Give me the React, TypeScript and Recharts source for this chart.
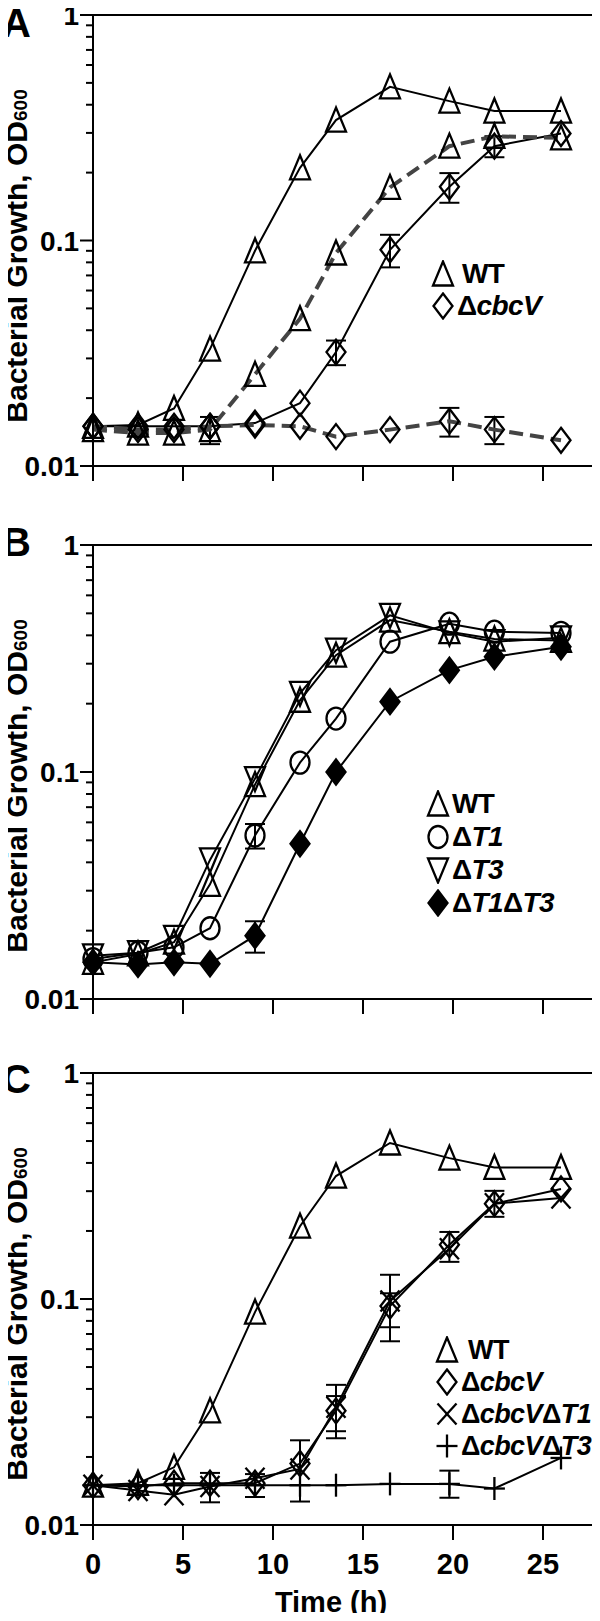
import React from 'react'
import { LineChart, Line, XAxis, YAxis, ErrorBar, ReferenceArea } from 'recharts'

const FONT = 'Liberation Sans, Arial, Helvetica, sans-serif'

const hours = [0, 2.5, 4.5, 6.5, 9, 11.5, 13.5, 16.5, 19.8, 22.3, 26]
const xTicks = [0, 5, 10, 15, 20, 25]
const majorY = [0.01, 0.1, 1]
const minorY = [0.02, 0.03, 0.04, 0.05, 0.06, 0.07, 0.08, 0.09, 0.2, 0.3, 0.4, 0.5, 0.6, 0.7, 0.8, 0.9]
const yTicks = [...majorY, ...minorY].sort((a, b) => a - b)

// panel A: solid = one condition, dashed grey = the other
const aWt = [0.015, 0.0152, 0.018, 0.033, 0.09, 0.21, 0.342, 0.48, 0.415, 0.375, 0.375]
const aWtDash = [0.0145, 0.014, 0.014, 0.0145, 0.0255, 0.045, 0.088, 0.172, 0.262, 0.29, 0.285]
const aWtDashErr = [null, null, null, 0.002, null, null, null, null, null, null, null]
const aCbcv = [0.015, 0.015, 0.015, 0.015, 0.0155, 0.019, 0.032, 0.091, 0.173, 0.262, 0.298]
const aCbcvErr = [null, null, null, null, null, null, 0.004, 0.015, 0.026, 0.028, null]
const aCbcvDash = [0.015, 0.0145, 0.0145, 0.015, 0.0152, 0.015, 0.0135, 0.0145, 0.0158, 0.0145, 0.013]
const aCbcvDashErr = [null, null, null, null, null, null, null, null, 0.0023, 0.002, null]

// panel B
const bWt = [0.0145, 0.0158, 0.0178, 0.032, 0.088, 0.207, 0.327, 0.467, 0.415, 0.385, 0.38]
const bT1 = [0.015, 0.016, 0.0169, 0.0205, 0.0525, 0.11, 0.172, 0.375, 0.45, 0.415, 0.41]
const bT1Err = [null, null, null, null, 0.0065, null, null, null, null, null, null]
const bT3 = [0.0155, 0.016, 0.0187, 0.041, 0.0935, 0.222, 0.344, 0.49, 0.41, 0.375, 0.39]
const bT1T3 = [0.0145, 0.0142, 0.0145, 0.0143, 0.019, 0.0483, 0.1, 0.204, 0.281, 0.322, 0.356]
const bT1T3Err = [null, null, null, null, 0.003, null, null, null, null, null, null]

// panel C
const cWt = [0.015, 0.0153, 0.018, 0.032, 0.0875, 0.21, 0.35, 0.49, 0.42, 0.382, 0.382]
const cCbcv = [0.015, 0.0148, 0.0153, 0.0153, 0.0153, 0.0187, 0.032, 0.093, 0.174, 0.264, 0.307]
const cCbcvErr = [null, null, null, [0.0027, 0.0017], [0.002, 0.0015], [0.006, 0.005], [0.006, 0.0097], [0.018, 0.035], [0.028, 0.024], [0.033, 0.037], null]
const cCbcvT1 = [0.015, 0.0142, 0.0136, 0.0148, 0.0161, 0.0177, 0.0332, 0.098, 0.167, 0.264, 0.28]
const cCbcvT1Err = [null, null, null, null, null, null, [0.009, 0.004], [0.033, 0.008], null, null, null]
const cCbcvT3 = [0.015, 0.015, 0.015, 0.015, 0.015, 0.015, 0.015, 0.0152, 0.0152, 0.0145, 0.0198]
const cCbcvT3Err = [null, null, null, null, null, null, null, null, [0.002, 0.0022], null, null]

const dataA = hours.map((t, i) => ({
  t, wt: aWt[i], wtDash: aWtDash[i], wtDashErr: aWtDashErr[i],
  cbcv: aCbcv[i], cbcvErr: aCbcvErr[i], cbcvDash: aCbcvDash[i], cbcvDashErr: aCbcvDashErr[i],
}))
const dataB = hours.map((t, i) => ({
  t, wt: bWt[i], t1: bT1[i], t1Err: bT1Err[i], t3: bT3[i], t1t3: bT1T3[i], t1t3Err: bT1T3Err[i],
}))
const dataC = hours.map((t, i) => ({
  t, wt: cWt[i], cbcv: cCbcv[i], cbcvErr: cCbcvErr[i], cbcvT1: cCbcvT1[i], cbcvT1Err: cCbcvT1Err[i],
  cbcvT3: cCbcvT3[i], cbcvT3Err: cCbcvT3Err[i],
}))

type Shape = 'triUp' | 'triDown' | 'diamond' | 'diamondFilled' | 'circle' | 'cross' | 'plus'
type Series = { key: string; shape: Shape; dashed?: boolean; err?: string }

function Marker({ shape, cx, cy }: { shape: Shape; cx: number; cy: number }) {
  const s = { stroke: '#000', strokeWidth: 2.3, fill: 'none' }
  switch (shape) {
    case 'triUp':
      return <polygon points={`${cx},${cy - 12.5} ${cx - 10},${cy + 11.5} ${cx + 10},${cy + 11.5}`} {...s} />
    case 'triDown':
      return <polygon points={`${cx},${cy + 12.5} ${cx - 10},${cy - 11.5} ${cx + 10},${cy - 11.5}`} {...s} />
    case 'diamond':
      return <polygon points={`${cx},${cy - 12.5} ${cx + 9.5},${cy} ${cx},${cy + 12.5} ${cx - 9.5},${cy}`} {...s} />
    case 'diamondFilled':
      return <polygon points={`${cx},${cy - 12.5} ${cx + 9.5},${cy} ${cx},${cy + 12.5} ${cx - 9.5},${cy}`} {...s} fill="#000" />
    case 'circle':
      return <ellipse cx={cx} cy={cy} rx={9.5} ry={11} {...s} />
    case 'cross':
      return (
        <g {...s}>
          <line x1={cx - 9.5} y1={cy - 10.5} x2={cx + 9.5} y2={cy + 10.5} />
          <line x1={cx - 9.5} y1={cy + 10.5} x2={cx + 9.5} y2={cy - 10.5} />
        </g>
      )
    case 'plus':
      return (
        <g {...s}>
          <line x1={cx - 10.5} y1={cy} x2={cx + 10.5} y2={cy} />
          <line x1={cx} y1={cy - 11.5} x2={cx} y2={cy + 11.5} />
        </g>
      )
  }
  return null
}

function markerDot(shape: Shape) {
  return (props: any) => {
    const { cx, cy, index } = props
    if (cx == null || cy == null) return <g key={`d-${index}`} />
    return (
      <g key={`d-${index}`}>
        <Marker shape={shape} cx={cx} cy={cy} />
      </g>
    )
  }
}

function YTick(props: any) {
  const { x, y, payload } = props
  const v = payload.value
  const major = majorY.includes(v)
  return (
    <g>
      <line x1={x - (major ? 13 : 7)} x2={x} y1={y} y2={y} stroke="#000" strokeWidth={2} />
      {major && (
        <text x={x - 14} y={y + 10} textAnchor="end" fontSize={28} fontWeight="bold" fontFamily={FONT} fill="#000">
          {String(v)}
        </text>
      )}
    </g>
  )
}

function XTick(props: any) {
  const { x, y, payload, showLabel } = props
  return (
    <g>
      <line x1={x} x2={x} y1={y} y2={y + 15} stroke="#000" strokeWidth={2} />
      {showLabel && (
        <text x={x} y={y + 49} textAnchor="middle" fontSize={29} fontWeight="bold" fontFamily={FONT} fill="#000">
          {payload.value}
        </text>
      )}
    </g>
  )
}

function YTitle() {
  return (
    <text
      transform="translate(27, 256) rotate(-90)"
      textAnchor="middle"
      fontSize={30}
      fontWeight="bold"
      fontFamily={FONT}
      fill="#000"
    >
      Bacterial Growth, OD<tspan fontSize={19}>600</tspan>
    </text>
  )
}

function XTitle() {
  return (
    <text x={331} y={554} textAnchor="middle" fontSize={29} fontWeight="bold" fontFamily={FONT} fill="#000">
      Time (h)
    </text>
  )
}

function Panel({
  top, height, axisHeight, data, series, xLabels,
}: {
  top: number; height: number; axisHeight: number; data: any[]; series: Series[]; xLabels: boolean
}) {
  return (
    <div style={{ position: 'absolute', left: 0, top }}>
      <LineChart width={600} height={height} data={data} margin={{ top: 15, right: 3, bottom: 0, left: 0 }}>
        <ReferenceArea x1={0} x2={28} y1={0.01} y2={1} fill="none" stroke="#000" strokeWidth={2} ifOverflow="visible" />
        <XAxis
          type="number"
          dataKey="t"
          domain={[0, 28]}
          ticks={xTicks}
          interval={0}
          height={axisHeight}
          tickSize={0}
          tickMargin={0}
          tickLine={false}
          axisLine={{ stroke: '#000', strokeWidth: 2 }}
          tick={(p: any) => <XTick {...p} showLabel={xLabels} />}
          label={xLabels ? <XTitle /> : undefined}
        />
        <YAxis
          type="number"
          scale="log"
          domain={[0.01, 1]}
          allowDataOverflow
          ticks={yTicks}
          interval={0}
          width={93}
          tickSize={0}
          tickMargin={0}
          tickLine={false}
          axisLine={{ stroke: '#000', strokeWidth: 2 }}
          tick={YTick}
          label={<YTitle />}
        />
        {series.map((s) => (
          <Line
            key={s.key}
            dataKey={s.key}
            type="linear"
            stroke={s.dashed ? '#444' : '#000'}
            strokeWidth={s.dashed ? 4 : 2}
            strokeDasharray={s.dashed ? '14 7' : undefined}
            dot={markerDot(s.shape)}
            activeDot={false}
            isAnimationActive={false}
          >
            {s.err && <ErrorBar dataKey={s.err} width={10} strokeWidth={2} stroke="#000" direction="y" />}
          </Line>
        ))}
      </LineChart>
    </div>
  )
}

type LegendItem = { shape: Shape; parts: { text: string; italic?: boolean }[]; gap?: number }

function LegendBox({ x, y, step, size = 28, items }: { x: number; y: number; step: number; size?: number; items: LegendItem[] }) {
  return (
    <div
      style={{
        position: 'absolute', left: x - 12, top: y - step / 2, zIndex: 2,
        fontFamily: FONT, fontWeight: 'bold', fontSize: size, letterSpacing: -0.6, color: '#000',
      }}
    >
      {items.map((it, i) => (
        <div key={i} style={{ display: 'flex', alignItems: 'center', height: step, whiteSpace: 'nowrap' }}>
          <svg width={24} height={28} style={{ flex: 'none' }}>
            <Marker shape={it.shape} cx={12} cy={14} />
          </svg>
          <span style={{ marginLeft: it.gap ?? 2, lineHeight: '28px' }}>
            {it.parts.map((p, j) => (
              <span key={j} style={{ fontStyle: p.italic ? 'italic' : 'normal' }}>{p.text}</span>
            ))}
          </span>
        </div>
      ))}
    </div>
  )
}

const letters = [
  { ch: 'A', y: 36.5 },
  { ch: 'B', y: 556 },
  { ch: 'C', y: 1093 },
]

const seriesA: Series[] = [
  { key: 'wt', shape: 'triUp' },
  { key: 'cbcv', shape: 'diamond', err: 'cbcvErr' },
  { key: 'wtDash', shape: 'triUp', dashed: true, err: 'wtDashErr' },
  { key: 'cbcvDash', shape: 'diamond', dashed: true, err: 'cbcvDashErr' },
]
const seriesB: Series[] = [
  { key: 'wt', shape: 'triUp' },
  { key: 't3', shape: 'triDown' },
  { key: 't1', shape: 'circle', err: 't1Err' },
  { key: 't1t3', shape: 'diamondFilled', err: 't1t3Err' },
]
const seriesC: Series[] = [
  { key: 'wt', shape: 'triUp' },
  { key: 'cbcvT3', shape: 'plus', err: 'cbcvT3Err' },
  { key: 'cbcv', shape: 'diamond', err: 'cbcvErr' },
  { key: 'cbcvT1', shape: 'cross', err: 'cbcvT1Err' },
]

export default function App() {
  return (
    <div style={{ position: 'relative', width: 600, height: 1621, margin: -8, background: '#fff', overflow: 'hidden' }}>
      <Panel top={0} height={500} axisHeight={34} data={dataA} series={seriesA} xLabels={false} />
      <Panel top={530} height={500} axisHeight={31} data={dataB} series={seriesB} xLabels={false} />
      <Panel top={1058} height={563} axisHeight={96} data={dataC} series={seriesC} xLabels />
      <svg width={50} height={1621} style={{ position: 'absolute', left: 0, top: 0, zIndex: 2, pointerEvents: 'none' }}>
        {letters.map((l) => (
          <text key={l.ch} x={2} y={l.y} fontSize={40} fontWeight="bold" fontFamily={FONT} fill="#000">
            {l.ch}
          </text>
        ))}
      </svg>
      <LegendBox
        x={443}
        y={274}
        step={32}
        items={[
          { shape: 'triUp', parts: [{ text: 'WT' }], gap: 7 },
          { shape: 'diamond', parts: [{ text: 'Δ' }, { text: 'cbcV', italic: true }] },
        ]}
      />
      <LegendBox
        x={438}
        y={804}
        step={33}
        items={[
          { shape: 'triUp', parts: [{ text: 'WT' }] },
          { shape: 'circle', parts: [{ text: 'Δ' }, { text: 'T1', italic: true }] },
          { shape: 'triDown', parts: [{ text: 'Δ' }, { text: 'T3', italic: true }] },
          { shape: 'diamondFilled', parts: [{ text: 'Δ' }, { text: 'T1', italic: true }, { text: 'Δ' }, { text: 'T3', italic: true }] },
        ]}
      />
      <LegendBox
        x={447}
        y={1350}
        step={32}
        size={27}
        items={[
          { shape: 'triUp', parts: [{ text: 'WT' }], gap: 9 },
          { shape: 'diamond', parts: [{ text: 'Δ' }, { text: 'cbcV', italic: true }] },
          { shape: 'cross', parts: [{ text: 'Δ' }, { text: 'cbcV', italic: true }, { text: 'Δ' }, { text: 'T1', italic: true }] },
          { shape: 'plus', parts: [{ text: 'Δ' }, { text: 'cbcV', italic: true }, { text: 'Δ' }, { text: 'T3', italic: true }] },
        ]}
      />
    </div>
  )
}
